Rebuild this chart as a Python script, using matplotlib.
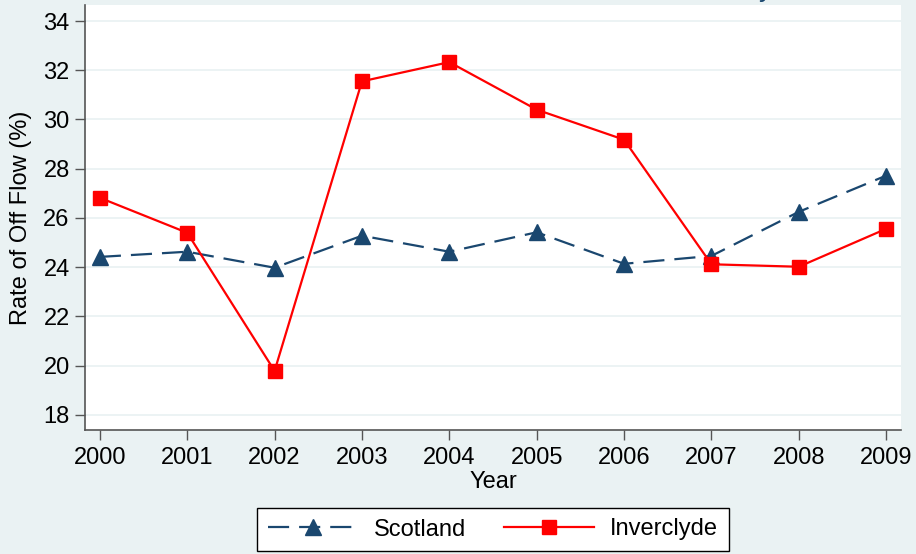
import matplotlib
matplotlib.use("Agg")
import matplotlib.pyplot as plt
from matplotlib.ticker import FixedLocator

plt.rcParams['font.family'] = ['Liberation Sans', 'DejaVu Sans']

years = [2000, 2001, 2002, 2003, 2004, 2005, 2006, 2007, 2008, 2009]
scotland = [24.42, 24.63, 23.98, 25.28, 24.63, 25.42, 24.14, 24.46, 26.25, 27.72]
inverclyde = [26.82, 25.40, 19.79, 31.55, 32.33, 30.40, 29.18, 24.12, 24.02, 25.56]
yticks = [18, 20, 22, 24, 26, 28, 30, 32, 34]

bg = '#eaf2f3'
navy = '#1a476f'
red = '#ff0000'

fig = plt.figure(figsize=(9.16, 5.54), dpi=100, facecolor=bg)
ax = fig.add_axes([85/916, 1-430/554, (901-85)/916, (430-5)/554])
ax.set_facecolor('white')

for y in yticks:
    ax.axhline(y, color=bg, lw=1.3, zorder=1)

ax.plot(years, scotland, color=navy, lw=1.6, linestyle=(0, (9.5, 4.5)),
        marker='^', markersize=11, markerfacecolor=navy, markeredgecolor=navy,
        label='Scotland', zorder=3)
ax.plot(years, inverclyde, color=red, lw=1.6, linestyle='-',
        marker='s', markersize=10, markerfacecolor=red, markeredgecolor=red,
        label='Inverclyde', zorder=4)

ax.set_xlim(1999.83, 2009.17)
ax.set_ylim(17.39, 34.65)
ax.xaxis.set_major_locator(FixedLocator(years))
ax.yaxis.set_major_locator(FixedLocator(yticks))
ax.set_xticklabels([str(y) for y in years])
ax.set_yticklabels([str(y) for y in yticks])

for s in ['top', 'right']:
    ax.spines[s].set_visible(False)
for s in ['left', 'bottom']:
    ax.spines[s].set_color('#555555')
    ax.spines[s].set_linewidth(1.2)

ax.tick_params(axis='both', direction='out', length=7, width=1.0, color='#555555',
               labelsize=17, labelcolor='black')
ax.tick_params(axis='x', pad=5)
ax.tick_params(axis='y', pad=4)

ax.set_xlabel('Year', fontsize=17, labelpad=2)
ax.set_ylabel('Rate of Off Flow (%)', fontsize=17, labelpad=8)

leg = fig.legend(loc='center', bbox_to_anchor=(493/916, 1-529.5/554), ncol=2,
                 fontsize=17, frameon=True, fancybox=False, handlelength=3.8,
                 handletextpad=0.7, columnspacing=1.6, borderpad=0.45,
                 edgecolor='black', facecolor='white', framealpha=1)
leg.get_frame().set_linewidth(1.0)

fig.text(766/916, 1 + 4/554, 'y', color=navy, fontsize=20, ha='center', va='baseline')

fig.savefig('out.png', dpi=100, facecolor=bg)
